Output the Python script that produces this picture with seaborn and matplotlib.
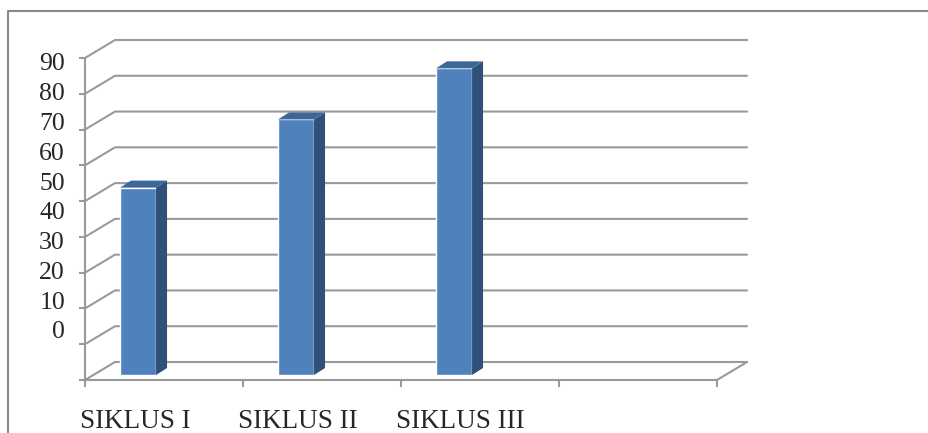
import numpy as np
import pandas as pd
import matplotlib
matplotlib.use("Agg")
import matplotlib.pyplot as plt
import seaborn as sns
from matplotlib.lines import Line2D
from matplotlib.patches import Polygon
from matplotlib.transforms import IdentityTransform, ScaledTranslation

# Data
categories = ["SIKLUS I", "SIKLUS II", "SIKLUS III"]
values = [52.38, 71.43, 85.71]
y_ticks = [0, 10, 20, 30, 40, 50, 60, 70, 80, 90]

df = pd.DataFrame({"siklus": categories, "nilai": values})

sns.set_style("white")
plt.rcParams["font.family"] = ["Liberation Serif", "DejaVu Serif"]

W, H = 929, 433
fig = plt.figure(figsize=(W / 100, H / 100), dpi=100)


def px_rect(l, t, r, b):
    # pixel box -> figure fraction
    return [l / W, 1 - b / H, (r - l) / W, (b - t) / H]


GRID = "#9a9a9a"
FRONT = "#4f81bd"
SIDE = "#2f5078"
TOP = "#3d6699"
DEPTH = np.array([30, 18])      # back wall offset in px
BAR_DEPTH = np.array([11, 7])   # bar side/top offset in px

x_lo, x_hi = -0.285, 3.715

# front axes: axis lines, tick marks, category labels
ax = fig.add_axes(px_rect(85, 58, 717, 380))
ax.patch.set_visible(False)
ax.set_xlim(x_lo, x_hi)
ax.set_ylim(0, 90)
for s in ["top", "right"]:
    ax.spines[s].set_visible(False)
for s in ["left", "bottom"]:
    ax.spines[s].set_color(GRID)
    ax.spines[s].set_linewidth(1.5)
ax.set_yticks(y_ticks)
ax.set_yticklabels([""] * len(y_ticks))
slots = [x_lo + k for k in range(5)]
ax.set_xticks(slots)
ax.set_xticklabels(categories + ["", ""], ha="left", fontsize=19.5)
ax.tick_params(axis="x", bottom=True, direction="out", length=5, width=1.5,
               color=GRID, pad=16)
ax.tick_params(axis="y", left=True, direction="out", length=4, width=1.5, color=GRID)
for lab in ax.get_xticklabels():
    lab.set_transform(lab.get_transform() + ScaledTranslation(-0.05, 0, fig.dpi_scale_trans))
ax.set_xlabel("")
ax.set_ylabel("")


def proj(x, v, d=1.0):
    p = ax.transData.transform((x, v))
    return p + d * DEPTH


# back wall gridlines and left wall diagonals
for v in y_ticks:
    a = proj(x_lo, v, 0)
    b = proj(x_lo, v)
    c = proj(x_hi, v)
    ax.add_line(Line2D([a[0], b[0], c[0]], [a[1], b[1], c[1]], color=GRID, lw=1.5,
                       transform=IdentityTransform(), clip_on=False, zorder=0))
# floor right edge
a = proj(x_hi, 0, 0)
b = proj(x_hi, 0)
ax.add_line(Line2D([a[0], b[0]], [a[1], b[1]], color=GRID, lw=1.5,
                   transform=IdentityTransform(), clip_on=False, zorder=0))

# bar axes, set back a little into the depth
ax_bar = fig.add_axes(px_rect(85 + 8, 58 - 5, 717 + 8, 380 - 5))
ax_bar.patch.set_visible(False)
sns.barplot(data=df, x="siklus", y="nilai", ax=ax_bar, color=FRONT,
            saturation=1, width=0.228)
ax_bar.set_xlim(x_lo, x_hi)
ax_bar.set_ylim(0, 90)
ax_bar.axis("off")

for p in ax_bar.patches:
    x0, x1 = p.get_x(), p.get_x() + p.get_width()
    h = p.get_height()
    br = ax_bar.transData.transform((x1, 0))
    tl = ax_bar.transData.transform((x0, h))
    tr = ax_bar.transData.transform((x1, h))
    side = [br, tr, tr + BAR_DEPTH, br + BAR_DEPTH]
    top = [tl, tr, tr + BAR_DEPTH, tl + BAR_DEPTH]
    ax_bar.add_patch(Polygon(side, closed=True, facecolor=SIDE, edgecolor="none",
                             transform=IdentityTransform(), clip_on=False))
    ax_bar.add_patch(Polygon(top, closed=True, facecolor=TOP, edgecolor="none",
                             transform=IdentityTransform(), clip_on=False))

# y labels (drawn a bit compressed, as in the original)
ax_lab = fig.add_axes(px_rect(85, 58, 717, 380))
ax_lab.patch.set_visible(False)
ax_lab.set_ylim(-16.8, 91.3)
ax_lab.set_yticks(y_ticks)
ax_lab.set_yticklabels([str(t) for t in y_ticks], fontsize=18.5)
ax_lab.tick_params(axis="y", left=True, length=0, pad=14.4)
ax_lab.set_xticks([])
for s in ax_lab.spines.values():
    s.set_visible(False)

# outer chart frame
fig.add_artist(Line2D([8 / W, 8 / W, 1], [0, 1 - 11 / H, 1 - 11 / H],
                      color="#8a8a8a", lw=1.5, transform=fig.transFigure))

fig.savefig("out.png", dpi=100)
